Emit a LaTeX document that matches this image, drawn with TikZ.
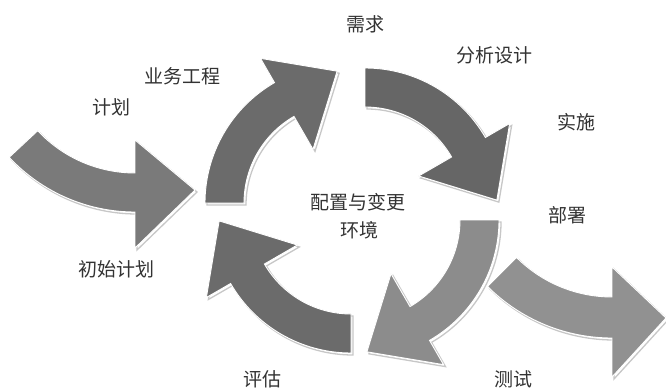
\documentclass[tikz,border=0pt]{standalone}
\usepackage{fontspec}
\newfontfamily\cjk{Noto Sans CJK SC}
\definecolor{gdark}{gray}{0.42}
\definecolor{gdarker}{gray}{0.40}
\definecolor{gbr}{gray}{0.55}
\definecolor{gleft}{gray}{0.48}
\definecolor{gright}{gray}{0.57}
\definecolor{txt}{gray}{0.2}
\def\cycpath#1{({#1}:139) arc[start angle={#1}, end angle={#1-60}, radius=139] -- ({#1-60}:167) -- ({#1-87}:132) -- ({#1-60}:62) -- ({#1-60}:100) arc[start angle={#1-60}, end angle={#1}, radius=100] -- cycle}
\begin{document}
\begin{tikzpicture}[x=1pt,y=1pt,
  lbl/.style={font=\cjk\fontsize{19}{21}\selectfont, text=txt, inner sep=0pt},
  shadowline/.style={draw=black!22, line width=1.3pt},
  rim/.style={draw=white, line width=0.9pt}]
\fill[white] (0,0) rectangle (666,389);
\useasboundingbox (0,0) rectangle (666,389);

% side arrows
\begin{scope}[shift={(135,349)}]
  \draw[shadowline, shift={(2,-2)}] (223:172) arc[start angle=223, end angle=270, radius=172] -- (270:208) -- (60,-150) -- (270:100) -- (270:133) arc[start angle=270, end angle=223, radius=133] -- cycle;
  \draw[rim, fill=gleft] (223:172) arc[start angle=223, end angle=270, radius=172] -- (270:208) -- (60,-150) -- (270:100) -- (270:133) arc[start angle=270, end angle=223, radius=133] -- cycle;
\end{scope}
\begin{scope}[shift={(612,227)}]
  \draw[shadowline, shift={(2,-2)}] (225:176) arc[start angle=225, end angle=270, radius=176] -- (270:215) -- (54,-156) -- (270:105) -- (270:135) arc[start angle=270, end angle=225, radius=135] -- cycle;
  \draw[rim, fill=gright] (225:176) arc[start angle=225, end angle=270, radius=176] -- (270:215) -- (54,-156) -- (270:105) -- (270:135) arc[start angle=270, end angle=225, radius=135] -- cycle;
\end{scope}

% cycle arrows
\begin{scope}[shift={(344,186)}]
  \draw[shadowline, shift={(2,-2)}] \cycpath{180};
  \draw[rim, fill=gdark] \cycpath{180};
\end{scope}
\begin{scope}[shift={(365,182)}]
  \draw[shadowline, shift={(2,-2)}] \cycpath{90};
  \draw[rim, fill=gdarker] \cycpath{90};
\end{scope}
\begin{scope}[shift={(360,169)}]
  \draw[shadowline, shift={(2,-2)}] \cycpath{0};
  \draw[rim, fill=gbr] \cycpath{0};
\end{scope}
\begin{scope}[shift={(351,175)}]
  \draw[shadowline, shift={(2,-2)}] \cycpath{270};
  \draw[rim, fill=gdark] \cycpath{270};
\end{scope}

% labels
\node[lbl] (xuqiu) at (365,365) {需求};
\node[lbl] (fenxi) at (494,334) {分析设计};
\node[lbl] (shishi) at (576,267) {实施};
\node[lbl] (yewu) at (182,313) {业务工程};
\node[lbl] (jihua) at (111,282) {计划};
\node[lbl] (peizhi) at (358,187) {配置与变更};
\node[lbl] (huanjing) at (359,159) {环境};
\node[lbl] (bushu) at (567,174) {部署};
\node[lbl] (chushi) at (116,120) {初始计划};
\node[lbl] (pinggu) at (262,10) {评估};
\node[lbl] (ceshi) at (513,10) {测试};
\end{tikzpicture}
\end{document}
